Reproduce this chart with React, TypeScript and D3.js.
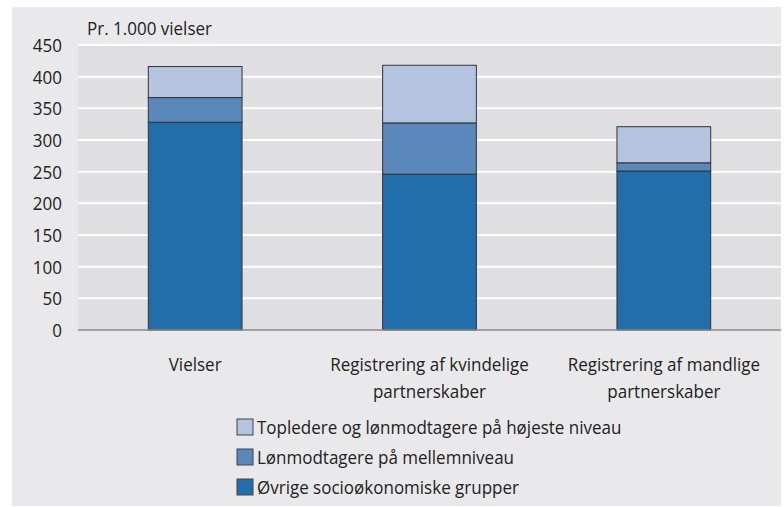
import React, { useEffect, useRef } from "react";
import * as d3 from "d3";

const categories = ["Vielser", "Registrering af kvindelige partnerskaber", "Registrering af mandlige partnerskaber"];
const categoryLines = [["Vielser"], ["Registrering af kvindelige", "partnerskaber"], ["Registrering af mandlige", "partnerskaber"]];
const seriesNames = [
  "Øvrige socioøkonomiske grupper",
  "Lønmodtagere på mellemniveau",
  "Topledere og lønmodtagere på højeste niveau",
];
const oevrige = [328, 246, 251];
const mellem = [39, 81, 13];
const topledere = [49, 91, 57];
const seriesColors = ["#226eaa", "#5b88bb", "#b3c3e0"];
const yTicks = [0, 50, 100, 150, 200, 250, 300, 350, 400, 450];

const FONT = "'Open Sans', sans-serif";
const FS = 19;
const SX = 0.895; // squeeze to mimic the condensed face

export default function App() {
  const ref = useRef<SVGSVGElement>(null);

  useEffect(() => {
    const svg = d3.select(ref.current);
    svg.selectAll("*").remove();

    const width = 784;
    const height = 507;
    const plot = { left: 78, right: 781, top: 45, bottom: 330 };
    const place = (px: number, py: number) => `translate(${px},${py}) scale(${SX},1)`;

    svg.append("rect").attr("x", 12).attr("y", 7).attr("width", 769).attr("height", 499).attr("fill", "#e9e9eb");
    svg.append("rect").attr("x", plot.left).attr("y", plot.top)
      .attr("width", plot.right - plot.left).attr("height", plot.bottom - plot.top).attr("fill", "#dfdfe1");

    const x = d3.scaleBand<string>().domain(categories).range([plot.left, plot.right])
      .paddingInner(0.6).paddingOuter(0.3);
    const y = d3.scaleLinear().domain([0, 450]).range([plot.bottom, plot.top]);

    // gridlines
    svg.append("g").selectAll("line").data(yTicks.filter((t) => t > 0)).join("line")
      .attr("x1", plot.left).attr("x2", plot.right)
      .attr("y1", (d) => y(d)).attr("y2", (d) => y(d))
      .attr("stroke", "#ffffff").attr("stroke-width", 2);

    // tick labels
    svg.append("g").selectAll("text").data(yTicks).join("text")
      .attr("transform", (d) => place(62, y(d))).attr("dy", "0.36em")
      .attr("text-anchor", "end").attr("font-family", FONT).attr("font-size", FS)
      .attr("fill", "#222").text((d) => d);

    svg.append("text").attr("transform", place(87, 35)).attr("font-family", FONT).attr("font-size", FS)
      .attr("fill", "#222").text("Pr. 1.000 vielser");

    // stacked bars
    const rows = categories.map((c, i) => ({ cat: c, s0: oevrige[i], s1: mellem[i], s2: topledere[i] }));
    const stacked = d3.stack<any>().keys(["s0", "s1", "s2"])(rows);
    svg.append("g").selectAll("g").data(stacked).join("g")
      .attr("fill", (_, i) => seriesColors[i])
      .selectAll("rect").data((d) => d).join("rect")
      .attr("x", (d) => x(d.data.cat)!).attr("width", x.bandwidth())
      .attr("y", (d) => y(d[1])).attr("height", (d) => y(d[0]) - y(d[1]))
      .attr("stroke", "#333").attr("stroke-width", 1);

    // zero line
    svg.append("line").attr("x1", plot.left).attr("x2", plot.right)
      .attr("y1", y(0)).attr("y2", y(0)).attr("stroke", "#8a8a8c").attr("stroke-width", 1.5);

    // category labels
    const cg = svg.append("g").selectAll("text").data(categories).join("text")
      .attr("text-anchor", "middle").attr("font-family", FONT).attr("font-size", FS).attr("fill", "#222")
      .attr("transform", (d) => place(x(d)! + x.bandwidth() / 2, 371));
    cg.selectAll("tspan").data((_, i) => categoryLines[i]).join("tspan")
      .attr("x", 0).attr("dy", (_, j) => (j === 0 ? 0 : 27)).text((d) => d);

    // legend (top series first)
    const legendOrder = [2, 1, 0];
    const lg = svg.append("g").selectAll("g").data(legendOrder).join("g")
      .attr("transform", (_, i) => `translate(237,${419 + i * 30})`);
    lg.append("rect").attr("width", 16).attr("height", 16).attr("fill", (d) => seriesColors[d])
      .attr("stroke", "#444").attr("stroke-width", 1);
    lg.append("text").attr("transform", place(20, 8)).attr("dy", "0.36em").attr("font-family", FONT)
      .attr("font-size", FS).attr("fill", "#222").text((d) => seriesNames[d]);

    svg.attr("width", width).attr("height", height);
  }, []);

  return <svg ref={ref} style={{ position: "absolute", left: 0, top: 0 }} />;
}
